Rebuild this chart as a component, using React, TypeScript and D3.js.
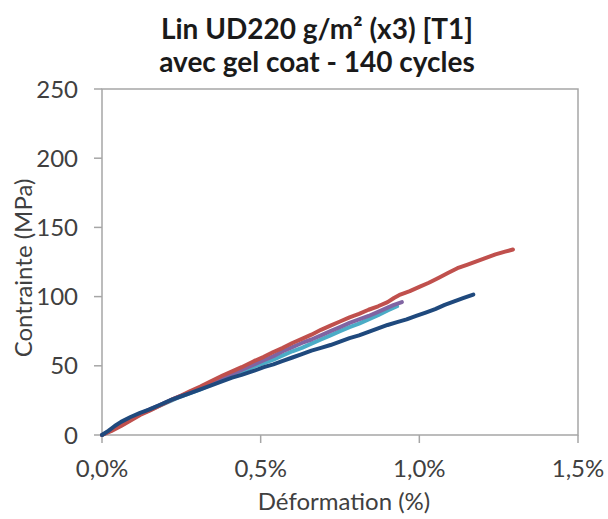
import React from 'react'
import * as d3 from 'd3'

// strain (%) / stress (MPa)
const redCurve: [number, number][] = [
  [0, 0], [0.03, 3], [0.06, 6.5], [0.09, 10.5], [0.12, 14.5], [0.15, 17.5], [0.18, 21],
  [0.22, 25.5], [0.25, 28.5], [0.28, 32], [0.31, 35], [0.34, 38.5], [0.38, 43],
  [0.41, 46], [0.44, 49], [0.48, 53.5], [0.51, 56.5], [0.54, 60], [0.57, 63],
  [0.6, 66.5], [0.63, 69.5], [0.66, 72.5], [0.69, 76], [0.72, 79], [0.75, 82],
  [0.78, 85], [0.81, 87.5], [0.84, 90.5], [0.87, 93], [0.9, 96], [0.92, 99],
  [0.94, 101.5], [0.97, 104], [1.0, 107], [1.03, 110], [1.06, 113.5], [1.09, 117],
  [1.12, 120.5], [1.15, 123], [1.18, 125.5], [1.21, 128], [1.24, 130.5],
  [1.27, 132.5], [1.295, 134],
]

const darkBlueCurve: [number, number][] = [
  [0, 0], [0.02, 3], [0.04, 6.5], [0.06, 9.5], [0.09, 13], [0.12, 16], [0.15, 18.5],
  [0.18, 21.5], [0.22, 25.5], [0.25, 28], [0.28, 30.5], [0.31, 33], [0.34, 35.5],
  [0.38, 39], [0.41, 41.5], [0.44, 43.5], [0.48, 46.5], [0.51, 49], [0.54, 51],
  [0.57, 53.5], [0.6, 56], [0.63, 58.5], [0.66, 61], [0.69, 63], [0.72, 65],
  [0.75, 67.5], [0.78, 70], [0.81, 72], [0.84, 74.5], [0.87, 77], [0.9, 79.5],
  [0.93, 81.5], [0.96, 83.5], [0.99, 86], [1.02, 88.5], [1.05, 91], [1.08, 94],
  [1.11, 96.5], [1.14, 99], [1.17, 101.5],
]

const purpleCurve: [number, number][] = [
  [0, 0], [0.03, 3.5], [0.06, 7], [0.09, 11], [0.12, 15], [0.15, 18.5], [0.18, 21.5],
  [0.22, 25.5], [0.25, 28.5], [0.28, 31], [0.31, 34], [0.34, 37], [0.38, 41],
  [0.41, 44], [0.44, 47], [0.48, 51], [0.51, 54], [0.54, 57], [0.57, 60.5],
  [0.6, 63.5], [0.63, 66.5], [0.66, 69], [0.69, 72], [0.72, 75], [0.75, 78],
  [0.78, 81], [0.81, 83.5], [0.84, 86], [0.87, 89], [0.9, 92], [0.92, 94],
  [0.945, 96],
]

const aquaCurve: [number, number][] = [
  [0, 0], [0.03, 3.5], [0.06, 7], [0.09, 11], [0.12, 15], [0.15, 18], [0.18, 21],
  [0.22, 25], [0.25, 28], [0.28, 30.5], [0.31, 33], [0.34, 36], [0.38, 40],
  [0.41, 42.5], [0.44, 45.5], [0.48, 49.5], [0.51, 52], [0.54, 54.5], [0.57, 57.5],
  [0.6, 60.5], [0.63, 63], [0.66, 66], [0.69, 69], [0.72, 72], [0.75, 75],
  [0.78, 78], [0.81, 80.5], [0.84, 83.5], [0.87, 86.5], [0.9, 90], [0.93, 93],
]

const xTicks = [0, 0.5, 1.0, 1.5]
const yTicks = [0, 50, 100, 150, 200, 250]

const titleLines = ['Lin UD220 g/m² (x3) [T1]', 'avec gel coat - 140 cycles']

const W = 608
const H = 519
const plot = { left: 102, right: 578, top: 89, bottom: 435 }
const font = 'Lato, "Open Sans", sans-serif'
const axisColor = '#a6a6a6'
const textColor = '#404040'

const App: React.FC = () => {
  const x = d3.scaleLinear().domain([0, 1.5]).range([plot.left, plot.right])
  const y = d3.scaleLinear().domain([0, 250]).range([plot.bottom, plot.top])

  const line = d3
    .line<[number, number]>()
    .x((d) => x(d[0]))
    .y((d) => y(d[1]))

  // drawing order: last one ends up on top
  const series = [
    { data: aquaCurve, color: '#4bacc6' },
    { data: purpleCurve, color: '#8064a2' },
    { data: redCurve, color: '#c0504d' },
    { data: darkBlueCurve, color: '#1f497d' },
  ]

  const fmt = (v: number) => v.toFixed(1).replace('.', ',') + '%'

  return (
    <svg
      width={W}
      height={H}
      style={{ position: 'absolute', left: 0, top: 0, background: '#fff' }}
    >
      {titleLines.map((t, i) => (
        <text
          key={t}
          x={317}
          y={39 + i * 33}
          textAnchor="middle"
          fontFamily={font}
          fontWeight="bold"
          fontSize={28}
          fill="#1a1a1a"
        >
          {t}
        </text>
      ))}

      {/* plot frame */}
      <rect
        x={plot.left}
        y={plot.top}
        width={plot.right - plot.left}
        height={plot.bottom - plot.top}
        fill="none"
        stroke={axisColor}
        strokeWidth={1.5}
      />

      {yTicks.map((t) => (
        <g key={t}>
          <line x1={plot.left - 8} x2={plot.left} y1={y(t)} y2={y(t)} stroke={axisColor} strokeWidth={1.5} />
          <text
            x={78}
            y={y(t)}
            dy="0.36em"
            textAnchor="end"
            fontFamily={font}
            fontSize={24}
            fill={textColor}
          >
            {t}
          </text>
        </g>
      ))}

      {xTicks.map((t) => (
        <g key={t}>
          <line x1={x(t)} x2={x(t)} y1={plot.bottom} y2={plot.bottom + 8} stroke={axisColor} strokeWidth={1.5} />
          <text
            x={x(t)}
            y={477}
            textAnchor="middle"
            fontFamily={font}
            fontSize={24}
            fill={textColor}
          >
            {fmt(t)}
          </text>
        </g>
      ))}

      {series.map((s) => (
        <path
          key={s.color}
          d={line(s.data) ?? ''}
          fill="none"
          stroke={s.color}
          strokeWidth={4}
          strokeLinejoin="round"
          strokeLinecap="round"
        />
      ))}

      <text
        x={(plot.left + plot.right) / 2 + 4}
        y={510}
        textAnchor="middle"
        fontFamily={font}
        fontSize={24}
        fill={textColor}
      >
        Déformation (%)
      </text>
      <text
        transform={`translate(32,${(plot.top + plot.bottom) / 2 + 6}) rotate(-90)`}
        textAnchor="middle"
        fontFamily={font}
        fontSize={24}
        fill={textColor}
      >
        Contrainte (MPa)
      </text>
    </svg>
  )
}

export default App
